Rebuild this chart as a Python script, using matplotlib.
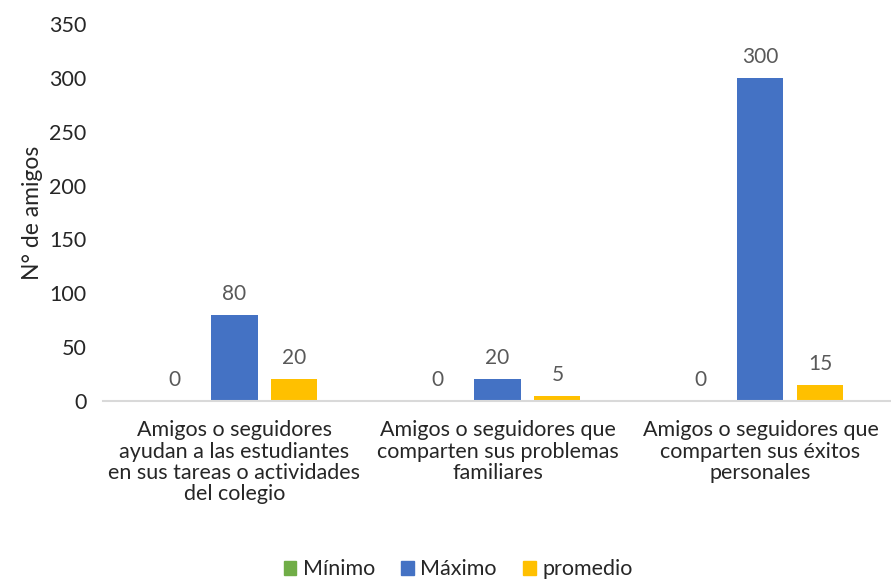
import numpy as np
import matplotlib.pyplot as plt
from matplotlib.patches import Patch

plt.rcParams['font.family'] = ['Lato', 'DejaVu Sans']

categorias = [
    "Amigos o seguidores\nayudan a las estudiantes\nen sus tareas o actividades\ndel colegio",
    "Amigos o seguidores que\ncomparten sus problemas\nfamiliares",
    "Amigos o seguidores que\ncomparten sus éxitos\npersonales",
]
series = ["Mínimo", "Máximo", "promedio"]
minimo = [0, 0, 0]
maximo = [80, 20, 300]
promedio = [20, 5, 15]
colores = ["#70AD47", "#4472C4", "#FFC000"]

fig = plt.figure(figsize=(8.91, 5.81), dpi=100)
ax = fig.add_axes([0.1156, 0.3098, 0.8855, 0.6489])

x = np.arange(len(categorias))
ancho = 0.175
paso = 0.228
for i, (vals, col) in enumerate(zip([minimo, maximo, promedio], colores)):
    pos = x + (i - 1) * paso
    ax.bar(pos, vals, width=ancho, color=col, label=series[i])
    for p, v in zip(pos, vals):
        ax.annotate(str(v), (p, v), xytext=(0, 8), textcoords="offset points",
                    ha="center", va="bottom", fontsize=15, color="#595959")

ax.set_xlim(-0.5, 2.5)
ax.set_ylim(0, 350)
ax.set_yticks(range(0, 351, 50))
ax.set_xticks(x)
ax.set_xticklabels(categorias, fontsize=15.5, color="#262626", linespacing=1.08)
ax.tick_params(axis="y", labelsize=15.5, labelcolor="#262626", length=0, pad=12)
ax.tick_params(axis="x", length=0, pad=14)
for s in ["top", "right", "left"]:
    ax.spines[s].set_visible(False)
ax.spines["bottom"].set_color("#D9D9D9")
ax.spines["bottom"].set_linewidth(1.5)
ax.set_ylabel("N° de amigos", fontsize=16.5, color="#262626", labelpad=4)

handles = [Patch(color=c) for c in colores]
fig.legend(handles, series, loc="center", bbox_to_anchor=(0.514, 0.02), ncol=3,
           frameon=False, fontsize=15.5, handlelength=0.6, handleheight=0.6,
           handletextpad=0.3, columnspacing=1.2, labelcolor="#262626")

fig.savefig("out.png", dpi=100)
